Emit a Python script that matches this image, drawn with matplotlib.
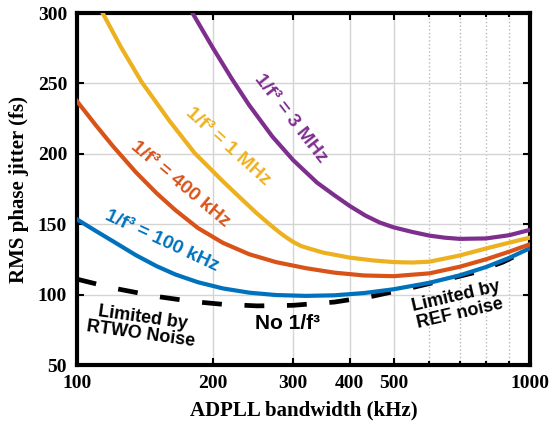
import numpy as np
import matplotlib
matplotlib.use('Agg')
import matplotlib.pyplot as plt
from matplotlib.ticker import FixedLocator, NullFormatter

# bandwidth (kHz) / RMS jitter (fs) for each 1/f^3 corner
bw_none = [100, 120, 150, 180, 210, 250, 300, 370, 450, 550, 650, 750, 870, 1000]
jit_none = [111, 104.7, 98.7, 95.1, 93.1, 92, 92.4, 94.7, 98.9, 105, 110.5, 115.5, 123, 132.5]

bw_100k = [100, 110, 120, 135, 150, 165, 185, 210, 240, 275, 320, 370, 430, 500,
           600, 700, 800, 900, 1000]
jit_100k = [153.5, 145.3, 138, 128, 120.2, 114.3, 108.8, 104.4, 101.4, 99.7, 99.1, 99.5,
            101.1, 103.8, 108.4, 113.7, 119.6, 126.1, 133]

bw_400k = [100, 110, 120, 135, 150, 165, 185, 210, 240, 275, 320, 370, 430, 500,
           600, 700, 800, 900, 1000]
jit_400k = [237.5, 220.5, 205.6, 186.9, 172, 160, 147.3, 136.8, 128.7, 123.1, 118.8,
            115.6, 113.6, 113.1, 115.1, 119.8, 125.1, 130.5, 135.8]

bw_1m = [114, 125, 139, 160, 182, 210, 229, 249, 265, 280, 290, 300, 312, 325, 350,
         400, 450, 500, 550, 600, 700, 800, 900, 1000]
jit_1m = [300, 276, 251, 223.5, 200.5, 180.5, 169, 158, 150.5, 144.2, 140.6, 137.5,
          134.6, 132.8, 129.8, 126.3, 124.3, 123.1, 122.8, 123.4, 127.8, 132.8, 136.9, 140.5]

bw_3m = [180, 190, 200, 210, 220, 240, 270, 300, 339, 370, 400, 433, 466, 500, 550,
         600, 650, 700, 800, 900, 1000]
jit_3m = [300, 287, 274.8, 263.7, 253.1, 234.6, 212.3, 195.6, 179.5, 170.6, 163, 156.2,
          151.2, 147.8, 144.5, 141.9, 140.4, 139.6, 139.9, 142.2, 146]

xticks = [100, 200, 300, 400, 500, 1000]
xminor = [600, 700, 800, 900]
yticks = [50, 100, 150, 200, 250, 300]

c_blue = '#0072BD'
c_orange = '#D95319'
c_yellow = '#EDB120'
c_purple = '#7E2F8E'

serif = 'Liberation Serif'
sans = 'Liberation Sans'

fig = plt.figure(figsize=(5.57, 4.21), dpi=100)
ax = fig.add_axes([0.138, 0.133, 0.8135, 0.836])

ax.plot(bw_none, jit_none, color='black', lw=3.4, dashes=(4.2, 4.8),
        dash_capstyle='butt', zorder=3)
ax.plot(bw_100k, jit_100k, color=c_blue, lw=3, zorder=4)
ax.plot(bw_400k, jit_400k, color=c_orange, lw=3, zorder=4)
ax.plot(bw_1m, jit_1m, color=c_yellow, lw=3, zorder=4)
ax.plot(bw_3m, jit_3m, color=c_purple, lw=3, zorder=4)

ax.set_xscale('log')
ax.set_xlim(100, 1000)
ax.set_ylim(50, 300)
ax.xaxis.set_major_locator(FixedLocator(xticks))
ax.xaxis.set_minor_locator(FixedLocator(xminor))
ax.xaxis.set_minor_formatter(NullFormatter())
ax.set_xticklabels([str(t) for t in xticks])
ax.set_yticks(yticks)

ax.grid(True, which='major', color='#d4d4d4', lw=1.0, zorder=0)
ax.grid(True, which='minor', axis='x', color='#b8b8b8', lw=1.0, ls=':', zorder=0)
ax.set_axisbelow(True)

for s in ax.spines.values():
    s.set_linewidth(3)
ax.tick_params(which='both', direction='in', top=True, right=True, width=1.5)
ax.tick_params(which='major', length=5, pad=7)
ax.tick_params(which='minor', length=3)
for lab in ax.get_xticklabels() + ax.get_yticklabels():
    lab.set_fontfamily(serif)
    lab.set_fontweight('bold')
    lab.set_fontsize(14)

ax.set_xlabel('ADPLL bandwidth (kHz)', fontfamily=serif, fontweight='bold',
              fontsize=15, labelpad=6)
ax.set_ylabel('RMS phase jitter (fs)', fontfamily=serif, fontweight='bold',
              fontsize=15, labelpad=6)

lab_kw = dict(fontfamily=sans, fontweight='bold', ha='center', va='center',
              rotation_mode='anchor', zorder=5)
ax.text(154, 138, '1/f³ = 100 kHz', color=c_blue, fontsize=14, rotation=-25, **lab_kw)
ax.text(169, 178.6, '1/f³ = 400 kHz', color=c_orange, fontsize=14, rotation=-40, **lab_kw)
ax.text(215.5, 205.5, '1/f³ = 1 MHz', color=c_yellow, fontsize=14, rotation=-42, **lab_kw)
ax.text(297, 225.4, '1/f³ = 3 MHz', color=c_purple, fontsize=14, rotation=-52, **lab_kw)
ax.text(139, 77.7, 'Limited by\nRTWO Noise', color='black', fontsize=13,
        rotation=-8, linespacing=1.0, **lab_kw)
ax.text(292, 79.8, 'No 1/f³', color='black', fontsize=15, **lab_kw)
ax.text(694, 92.6, 'Limited by\nREF noise', color='black', fontsize=13,
        rotation=13, linespacing=1.0, **lab_kw)

fig.savefig('out.png', dpi=100)
